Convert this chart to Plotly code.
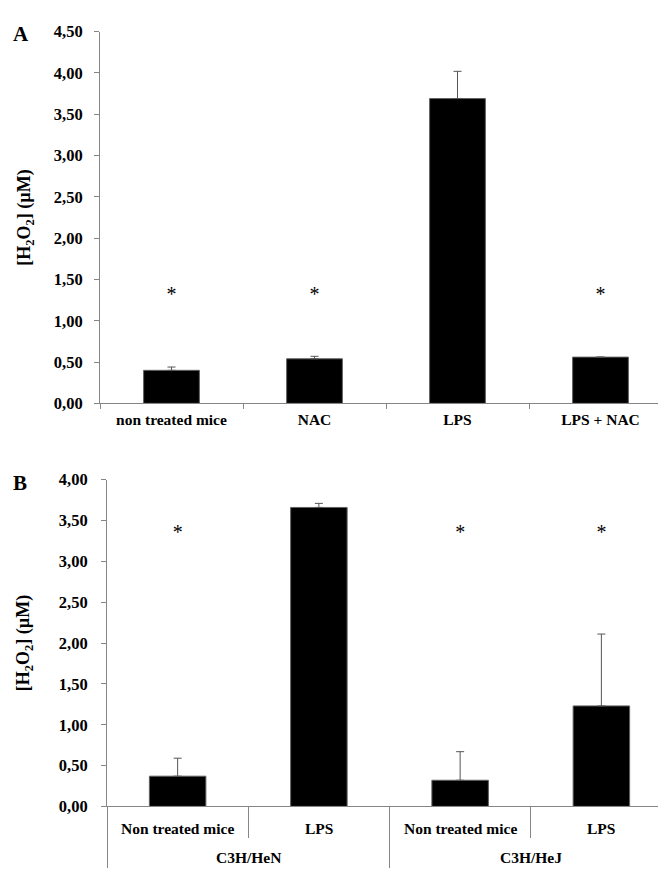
import plotly.graph_objects as go

# Panel A data
cats_a = ["non treated mice", "NAC", "LPS", "LPS + NAC"]
vals_a = [0.40, 0.54, 3.69, 0.56]
err_a = [0.04, 0.03, 0.33, 0.0]
star_a = [1.30, 1.30, None, 1.30]

# Panel B data
pos_b = [0, 1, 2, 3]
subs_b = ["Non treated mice", "LPS", "Non treated mice", "LPS"]
groups_b = ["C3H/HeN", "C3H/HeJ"]
group_pos_b = [0.5, 2.5]
vals_b = [0.37, 3.66, 0.32, 1.23]
err_b = [0.22, 0.05, 0.35, 0.88]
star_b = [3.33, None, 3.33, 3.33]

W, H = 666, 871
FONT = "Liberation Serif"
AX = "#868686"

fig = go.Figure()

fig.add_trace(go.Bar(
    x=cats_a, y=vals_a, width=0.39,
    marker=dict(color="black", line=dict(color="#606060", width=1)),
    error_y=dict(type="data", array=err_a, arrayminus=[0]*4, symmetric=False,
                 color="#555555", thickness=1, width=4),
    xaxis="x", yaxis="y", showlegend=False))
fig.add_trace(go.Scatter(
    x=cats_a, y=star_a, mode="text", text=["*"]*4,
    textfont=dict(family=FONT, size=20, color="black"),
    xaxis="x", yaxis="y", showlegend=False))

fig.add_trace(go.Bar(
    x=pos_b, y=vals_b, width=0.4,
    marker=dict(color="black", line=dict(color="#606060", width=1)),
    error_y=dict(type="data", array=err_b, arrayminus=[0]*4, symmetric=False,
                 color="#555555", thickness=1, width=4),
    xaxis="x2", yaxis="y2", showlegend=False))
fig.add_trace(go.Scatter(
    x=pos_b, y=star_b, mode="text", text=["*"]*4,
    textfont=dict(family=FONT, size=20, color="black"),
    xaxis="x2", yaxis="y2", showlegend=False))

tickfont = dict(family=FONT, size=16.5, color="black", weight="bold")
lblfont = dict(family=FONT, size=15.5, color="black", weight="bold")


def ytitle(standoff):
    return dict(text="[H<sub>2</sub>O<sub>2</sub>] (µM)",
                font=dict(family=FONT, size=18, color="black", weight="bold"),
                standoff=standoff)


annotations = [
    dict(text="A", x=0.004, y=1-3/H, xref="paper", yref="paper",
         xanchor="left", yanchor="top", showarrow=False,
         font=dict(family=FONT, size=21, color="black", weight="bold")),
    dict(text="B", x=0.004, y=1-462/H, xref="paper", yref="paper",
         xanchor="left", yanchor="top", showarrow=False,
         font=dict(family=FONT, size=21, color="black", weight="bold")),
]
for p, s in zip(pos_b, subs_b):
    annotations.append(dict(text=s, x=p, y=0, xref="x2", yref="y2 domain",
                            yanchor="middle", yshift=-22, showarrow=False,
                            font=lblfont))
for p, g in zip(group_pos_b, groups_b):
    annotations.append(dict(text=g, x=p, y=0, xref="x2", yref="y2 domain",
                            yanchor="middle", yshift=-51, showarrow=False,
                            font=lblfont))

fig.update_layout(
    width=W, height=H, margin=dict(l=0, r=0, t=0, b=0),
    paper_bgcolor="white", plot_bgcolor="white",
    separators=",.",
    xaxis=dict(domain=[92/W, 664/W], anchor="y", type="category",
               showline=True, linecolor=AX, linewidth=1,
               ticks="outside", tickson="boundaries", ticklen=5, tickcolor=AX,
               tickfont=lblfont, ticklabelstandoff=2,
               showgrid=False, zeroline=False),
    yaxis=dict(domain=[1-395/H, 1-15/H], anchor="x", range=[0, 4.5],
               dtick=0.5, tickformat=".2f",
               showline=True, linecolor=AX, linewidth=1,
               ticks="outside", ticklen=5, tickcolor=AX,
               tickfont=tickfont, ticklabelstandoff=8, title=ytitle(18),
               showgrid=False, zeroline=False),
    xaxis2=dict(domain=[99/W, 664/W], anchor="y2", range=[-0.5, 3.5],
                tickmode="linear", tick0=-0.5, dtick=2,
                showticklabels=False,
                showline=True, linecolor=AX, linewidth=1,
                ticks="outside", ticklen=61, tickcolor=AX,
                minor=dict(tickmode="linear", tick0=-0.5, dtick=1,
                           ticks="outside", ticklen=31, tickcolor=AX,
                           showgrid=False),
                showgrid=False, zeroline=False),
    yaxis2=dict(domain=[1-807/H, 1-473/H], anchor="x2", range=[0, 4.0],
                dtick=0.5, tickformat=".2f",
                showline=True, linecolor=AX, linewidth=1,
                ticks="outside", ticklen=5, tickcolor=AX,
                tickfont=tickfont, ticklabelstandoff=10, title=ytitle(24),
                showgrid=False, zeroline=False),
    annotations=annotations,
)

fig.write_html("out.html")
